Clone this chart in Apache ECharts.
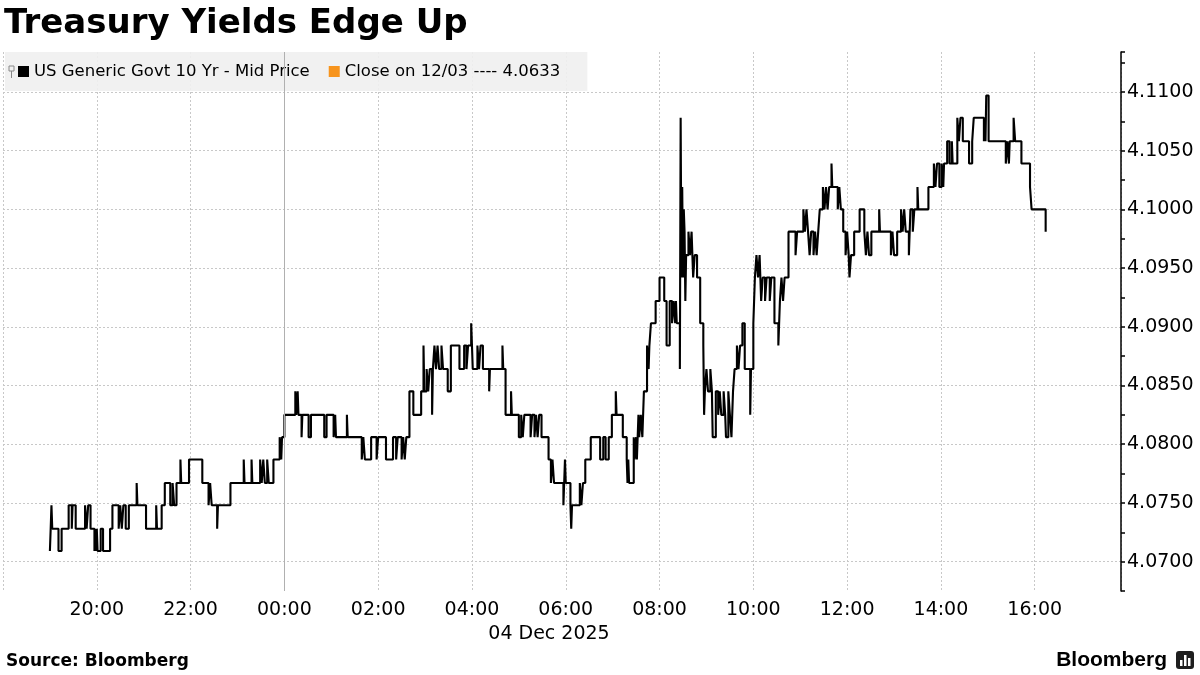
<!DOCTYPE html>
<html>
<head>
<meta charset="utf-8">
<title>Treasury Yields Edge Up</title>
<script src="https://cdn.jsdelivr.net/npm/echarts@6.0.0/dist/echarts.min.js"></script>
<style>
  html, body { margin: 0; padding: 0; background: #fff; }
  #chart { width: 1200px; height: 675px; }
</style>
</head>
<body>
<div id="chart"></div>
<script>
// US 10Y mid yield. 3 Dec 19:00 -> 4 Dec 16:14 (local time)
const times = [
  '19:00','19:01','19:02','19:03','19:11','19:15','19:24','19:28','19:29','19:33','19:45','19:47','19:49','19:52','19:57','19:58','19:59',
  '20:00','20:01','20:05','20:08','20:17','20:20','20:28','20:30','20:32','20:34','20:37','20:41','20:51','20:52',
  '21:03','21:16','21:17','21:23','21:27','21:34','21:37','21:39','21:42','21:47','21:48','21:58',
  '22:15','22:23','22:25','22:27','22:34','22:35','22:51',
  '23:08','23:09','23:18','23:19','23:29','23:31','23:33','23:35','23:38','23:40','23:46','23:54','23:56','23:57',
  '00:00','00:14','00:15','00:17','00:18','00:22','00:23','00:31','00:34','00:51','00:54',
  '01:03','01:05','01:06','01:20','01:21','01:39','01:41','01:43','01:51','01:58',
  '02:00','02:10','02:19','02:23','02:25','02:30','02:32','02:34','02:36','02:40','02:45','02:55','02:58','02:59',
  '03:02','03:04','03:06','03:09','03:10','03:12','03:14','03:16','03:18','03:21','03:23','03:29','03:33','03:44','03:50','03:53','03:55','03:59',
  '04:00','04:01','04:07','04:09','04:11','04:14','04:22','04:23','04:39','04:40','04:43','04:50','04:51',
  '05:00','05:03','05:05','05:07','05:15','05:17','05:20','05:22','05:24','05:26','05:29','05:38','05:41','05:43','05:45','05:57','05:59',
  '06:00','06:06','06:07','06:08','06:18','06:20','06:22','06:25','06:32','06:44','06:48','06:51','06:55','06:59',
  '07:04','07:05','07:13','07:18','07:19','07:20','07:21','07:27','07:28','07:30','07:31','07:32','07:33','07:34','07:36','07:38','07:40','07:44','07:46','07:47','07:49','07:55',
  '08:00','08:06','08:09','08:13','08:16','08:18','08:20','08:21','08:22','08:26','08:27','08:28','08:29','08:30','08:31','08:32','08:33','08:34','08:37','08:39','08:41','08:42','08:43','08:45','08:48','08:52','08:56','08:57','08:58',
  '09:00','09:02','09:05','09:07','09:08','09:12','09:15','09:17','09:19','09:22','09:24','09:25','09:28','09:30','09:32','09:34','09:36','09:39','09:41','09:43','09:46','09:49','09:56','09:57',
  '10:00','10:02','10:04','10:06','10:08','10:10','10:12','10:15','10:17','10:21','10:23','10:27','10:32','10:33','10:34','10:36','10:38','10:40','10:45','10:54','10:56',
  '11:04','11:06','11:08','11:10','11:12','11:14','11:17','11:19','11:21','11:23','11:25','11:29','11:31','11:33','11:35','11:37','11:40','11:41','11:48','11:50','11:52','11:55','11:58',
  '12:00','12:02','12:03','12:05','12:09','12:16','12:22','12:24','12:26','12:28','12:31','12:41','12:42','12:56','12:58',
  '13:00','13:04','13:09','13:11','13:13','13:15','13:19','13:21','13:24','13:26','13:30','13:31','13:44','13:51','13:53','13:55','13:58',
  '14:01','14:03','14:04','14:08','14:11','14:14','14:15','14:21','14:23','14:25','14:28','14:36','14:40','14:42','14:55','14:56','14:57','14:58',
  '15:01','15:23','15:25','15:27','15:28','15:33','15:35','15:43','15:54','15:56',
  '16:14'
];

const yields = [
  4.0709,4.0728,4.0748,4.0728,4.0709,4.0728,4.0748,4.0728,4.0748,4.0728,4.0748,4.0728,4.0748,4.0728,4.0709,4.0728,4.0709,
  4.0728,4.0709,4.0728,4.0709,4.0728,4.0748,4.0728,4.0748,4.0728,4.0748,4.0728,4.0748,4.0767,4.0748,
  4.0728,4.0748,4.0728,4.0748,4.0767,4.0748,4.0767,4.0748,4.0767,4.0787,4.0767,4.0787,
  4.0767,4.0748,4.0767,4.0748,4.0728,4.0748,4.0767,
  4.0787,4.0767,4.0787,4.0767,4.0787,4.0767,4.0787,4.0767,4.0787,4.0767,4.0787,4.0806,4.0787,4.0806,
  4.0825,4.0845,4.0825,4.0845,4.0825,4.0806,4.0825,4.0806,4.0825,4.0806,4.0825,
  4.0806,4.0825,4.0806,4.0825,4.0806,4.0787,4.0806,4.0787,4.0806,4.0787,
  4.0806,4.0787,4.0806,4.0787,4.0806,4.0787,4.0806,4.0787,4.0806,4.0845,4.0825,4.0845,4.0884,4.0845,
  4.0864,4.0845,4.0864,4.0825,4.0864,4.0884,4.0864,4.0884,4.0864,4.0884,4.0864,4.0845,4.0884,4.0864,4.0884,4.0864,4.0884,4.0903,
  4.0884,4.0864,4.0884,4.0864,4.0884,4.0864,4.0845,4.0864,4.0884,4.0864,4.0825,4.0845,4.0825,
  4.0806,4.0825,4.0806,4.0825,4.0806,4.0825,4.0806,4.0825,4.0806,4.0825,4.0806,4.0787,4.0767,4.0787,4.0767,4.0748,4.0787,
  4.0767,4.0748,4.0728,4.0748,4.0767,4.0748,4.0767,4.0787,4.0806,4.0787,4.0806,4.0787,4.0806,4.0825,
  4.0845,4.0825,4.0806,4.0787,4.0767,4.0787,4.0767,4.0806,4.0787,4.0806,4.0787,4.0806,4.0825,4.0806,4.0825,4.0806,4.0845,4.0884,4.0864,4.0884,4.0903,4.0922,
  4.0942,4.0922,4.0884,4.0922,4.0903,4.0922,4.0903,4.0922,4.0903,4.0864,4.1078,4.0942,4.1019,4.0942,4.1000,4.0981,4.0922,4.0961,4.0981,4.0961,4.0981,4.0961,4.0942,4.0961,4.0942,4.0903,4.0884,4.0825,4.0845,
  4.0864,4.0845,4.0864,4.0845,4.0806,4.0845,4.0825,4.0845,4.0825,4.0845,4.0825,4.0806,4.0845,4.0825,4.0806,4.0845,4.0864,4.0884,4.0864,4.0884,4.0903,4.0864,4.0825,4.0864,
  4.0903,4.0942,4.0961,4.0942,4.0961,4.0922,4.0942,4.0922,4.0942,4.0922,4.0942,4.0903,4.0884,4.0903,4.0922,4.0942,4.0922,4.0942,4.0981,4.0961,4.0981,
  4.1000,4.0981,4.1000,4.0981,4.0961,4.0981,4.0961,4.0981,4.0961,4.0981,4.1000,4.1019,4.1000,4.1019,4.1000,4.1019,4.1039,4.1019,4.1000,4.1019,4.1000,4.0981,4.0961,
  4.0981,4.0961,4.0942,4.0961,4.0981,4.1000,4.0981,4.0961,4.0981,4.0961,4.0981,4.1000,4.0981,4.0961,4.0981,
  4.0961,4.0981,4.1000,4.0981,4.1000,4.0981,4.0961,4.1000,4.0981,4.1000,4.1019,4.1000,4.1019,4.1039,4.1019,4.1039,4.1019,
  4.1039,4.1019,4.1039,4.1058,4.1039,4.1058,4.1039,4.1078,4.1058,4.1078,4.1058,4.1039,4.1058,4.1078,4.1058,4.1078,4.1058,4.1097,
  4.1058,4.1039,4.1058,4.1039,4.1058,4.1078,4.1058,4.1039,4.1019,4.1000,
  4.0981
];

const seriesName = 'US Generic Govt 10 Yr - Mid Price';
const closeName = 'Close on 12/03 ---- 4.0633';
const dateLabel = '04 Dec 2025';

if (times.length !== yields.length) {
  console.error('times/yields length mismatch', times.length, yields.length);
}

// hours relative to 4 Dec 00:00 (evening of 3 Dec is negative)
function toHours(t) {
  const [h, m] = t.split(':').map(Number);
  let v = h + m / 60;
  if (h >= 18) v -= 24;
  return v;
}

const font = 'DejaVu Sans';
const gridColor = '#c8c8c8';

const chart = echarts.init(document.getElementById('chart'));

const option = {
  animation: false,
  backgroundColor: '#fff',
  grid: { left: 0, right: 79, top: 52, bottom: 84 },
  legend: {
    left: 5,
    top: 52,
    padding: [11, 27, 11, 13],
    backgroundColor: 'rgba(240,240,240,0.9)',
    icon: 'rect',
    itemWidth: 11,
    itemHeight: 11,
    itemGap: 19,
    selectedMode: false,
    textStyle: { fontFamily: font, fontSize: 16.5, color: '#000' },
    data: [seriesName, closeName]
  },
  xAxis: {
    type: 'value',
    min: -6,
    max: 17.84,
    interval: 2,
    axisLine: { show: false },
    axisTick: { show: false },
    axisLabel: {
      fontFamily: font,
      fontSize: 19,
      color: '#000',
      margin: 10,
      formatter: function (v) {
        if (v <= -6 || Math.abs(v - Math.round(v)) > 1e-6) return '';
        const h = (Math.round(v) + 24) % 24;
        return String(h).padStart(2, '0') + ':00';
      }
    },
    splitLine: { show: true, lineStyle: { color: gridColor, type: [2, 2], width: 1 } }
  },
  yAxis: {
    type: 'value',
    position: 'right',
    min: 4.0675,
    max: 4.1134,
    interval: 0.0025,
    axisLine: { show: true, onZero: false, lineStyle: { color: '#000', width: 1.5 } },
    axisTick: { show: true, inside: false, length: 4, lineStyle: { color: '#000', width: 1.5 } },
    axisLabel: {
      fontFamily: font,
      fontSize: 19,
      color: '#000',
      margin: 6,
      formatter: function (v) {
        return Math.round(v * 10000) % 50 === 0 ? v.toFixed(4) : '';
      }
    },
    splitLine: {
      show: true,
      showMaxLine: false,
      // only every other tick (the labelled ones) gets a grid line
      lineStyle: { color: ['rgba(0,0,0,0)', gridColor], type: [2, 2], width: 1 }
    }
  },
  series: [
    {
      name: seriesName,
      type: 'line',
      step: 'end',
      symbol: 'none',
      showSymbol: false,
      z: 3,
      itemStyle: { color: '#000' },
      lineStyle: { color: '#000', width: 2.1 },
      data: times.map((t, i) => [toHours(t), yields[i]]),
      markLine: {
        silent: true,
        symbol: 'none',
        label: { show: false },
        lineStyle: { color: '#b0b0b0', type: 'solid', width: 1 },
        data: [{ xAxis: 0 }]
      }
    },
    {
      name: closeName,
      type: 'line',
      symbol: 'none',
      itemStyle: { color: '#f7941d' },
      lineStyle: { color: '#f7941d' },
      data: []
    }
  ],
  graphic: [
    {
      type: 'text', left: 4, top: 7, z: 100,
      style: { text: 'Treasury Yields Edge Up', font: 'bold 34px "DejaVu Sans"', fill: '#000' }
    },
    {
      type: 'text', x: 549, y: 634, z: 100,
      style: { text: dateLabel, font: '19px "DejaVu Sans"', fill: '#000', align: 'center', verticalAlign: 'middle' }
    },
    {
      type: 'text', x: 6, y: 662, z: 100,
      style: { text: 'Source: Bloomberg', font: 'bold 17px "DejaVu Sans"', fill: '#000', verticalAlign: 'middle' }
    },
    {
      type: 'text', x: 1167, y: 660, z: 100,
      style: { text: 'Bloomberg', font: 'bold 21px "Liberation Sans"', fill: '#000', align: 'right', verticalAlign: 'middle' }
    },
    // small logo mark
    { type: 'rect', z: 100, shape: { x: 1176, y: 651, width: 18, height: 18, r: 3 }, style: { fill: '#1e1e1e' } },
    { type: 'rect', z: 101, shape: { x: 1180, y: 660, width: 2.5, height: 6 }, style: { fill: '#fff' } },
    { type: 'rect', z: 101, shape: { x: 1184, y: 655, width: 2.5, height: 11 }, style: { fill: '#fff' } },
    { type: 'rect', z: 101, shape: { x: 1188, y: 658, width: 2.5, height: 8 }, style: { fill: '#fff' } },
    // tiny glyph in front of the legend
    { type: 'rect', z: 100, shape: { x: 9, y: 66, width: 5, height: 5 }, style: { fill: 'none', stroke: '#888', lineWidth: 1 } },
    { type: 'line', z: 100, shape: { x1: 11.5, y1: 71, x2: 11.5, y2: 78 }, style: { stroke: '#888', lineWidth: 1 } }
  ]
};

chart.setOption(option);
</script>
</body>
</html>
